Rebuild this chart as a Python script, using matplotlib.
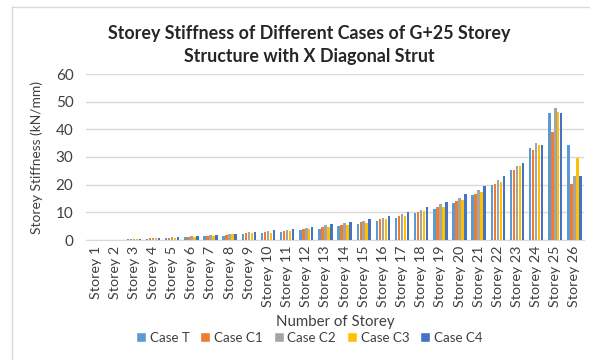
import numpy as np
import matplotlib.pyplot as plt
from matplotlib.lines import Line2D

plt.rcParams['font.family'] = ['Lato', 'DejaVu Sans']

storeys = [f"Storey {i}" for i in range(1, 27)]
cases = ["Case T", "Case C1", "Case C2", "Case C3", "Case C4"]
colors = ["#5B9BD5", "#ED7D31", "#A5A5A5", "#FFC000", "#4472C4"]

# storey stiffness (kN/mm), one list per case
case_t = [0.0, 0.05, 0.3, 0.5, 0.8, 1.0, 1.4, 1.6, 2.3, 2.7, 3.0, 3.6, 4.1,
          5.1, 5.8, 6.9, 8.1, 9.7, 11.2, 13.5, 16.4, 20.0, 25.2, 33.2, 45.8, 34.2]
case_c1 = [0.0, 0.05, 0.3, 0.6, 0.9, 1.1, 1.6, 1.9, 2.4, 2.8, 3.4, 3.9, 4.7,
           5.6, 6.4, 7.5, 8.7, 10.1, 12.0, 14.1, 16.7, 20.4, 25.2, 32.4, 39.2, 20.2]
case_c2 = [0.0, 0.05, 0.4, 0.7, 1.0, 1.3, 1.8, 2.2, 2.8, 3.3, 3.6, 4.3, 5.3,
           6.0, 6.9, 8.0, 9.4, 10.9, 12.9, 15.3, 18.1, 21.8, 26.9, 34.9, 47.7, 23.0]
case_c3 = [0.0, 0.05, 0.3, 0.6, 0.9, 1.1, 1.6, 2.0, 2.4, 2.7, 3.4, 3.8, 4.7,
           5.3, 6.2, 7.5, 8.6, 10.4, 12.1, 14.4, 17.4, 21.1, 26.6, 34.5, 46.1, 29.8]
case_c4 = [0.0, 0.05, 0.4, 0.7, 1.1, 1.4, 1.9, 2.2, 3.0, 3.5, 4.0, 4.7, 5.7,
           6.4, 7.5, 8.6, 10.1, 11.8, 13.9, 16.6, 19.6, 23.3, 27.8, 34.5, 45.8, 23.2]
series = [case_t, case_c1, case_c2, case_c3, case_c4]

fig = plt.figure(figsize=(5.9, 3.6), dpi=100)
ax = fig.add_axes([86 / 590, 120 / 360, 498 / 590, 166 / 360])

# chart area outline
fig.add_artist(Line2D([12 / 590, 1], [1 - 7 / 360, 1 - 7 / 360], color="#D9D9D9", lw=1))
fig.add_artist(Line2D([12 / 590, 12 / 590], [0, 1 - 7 / 360], color="#D9D9D9", lw=1))

x = np.arange(len(storeys))
w = 0.13
for k, (vals, c, lab) in enumerate(zip(series, colors, cases)):
    ax.bar(x + (k - 2) * 0.155, vals, width=w, color=c, label=lab, zorder=3)

ax.set_xlim(-0.5, len(storeys) - 0.5)
ax.set_ylim(0, 60)
ax.set_yticks(np.arange(0, 61, 10))
ax.set_xticks(x)
ax.set_xticklabels(storeys, rotation=90, fontsize=10.3, color="#404040")
ax.tick_params(axis="y", labelsize=11, labelcolor="#404040", length=0, pad=9)
ax.tick_params(axis="x", length=0, pad=4)
ax.grid(axis="y", color="#D9D9D9", lw=1, zorder=0)
for s in ["top", "right", "left"]:
    ax.spines[s].set_visible(False)
ax.spines["bottom"].set_color("#D9D9D9")

ax.set_ylabel("Storey Stiffness (kN/mm)", fontsize=9.9, color="#404040")
ax.yaxis.set_label_coords(-43 / 498, 0.5)
ax.set_xlabel("Number of Storey", fontsize=10.8, color="#404040")
ax.xaxis.set_label_coords(0.501, -75 / 166)

fig.text(0.524, 1 - 45 / 360,
         "Storey Stiffness of Different Cases of G+25 Storey\nStructure with X Diagonal Strut",
         ha="center", va="center", fontsize=12.9, fontweight="bold", color="#262626",
         linespacing=1.4)

handles = [Line2D([0], [0], marker="s", color="w", markerfacecolor=c, markersize=7,
                  label=lab) for c, lab in zip(colors, cases)]
fig.legend(handles=handles, loc="center", bbox_to_anchor=(0.525, 1 - 338 / 360), ncol=5,
           frameon=False, fontsize=9.6, handlelength=0.6, handletextpad=0.35,
           columnspacing=0.9, labelcolor="#404040", borderpad=0)

fig.savefig("out.png", dpi=100)
